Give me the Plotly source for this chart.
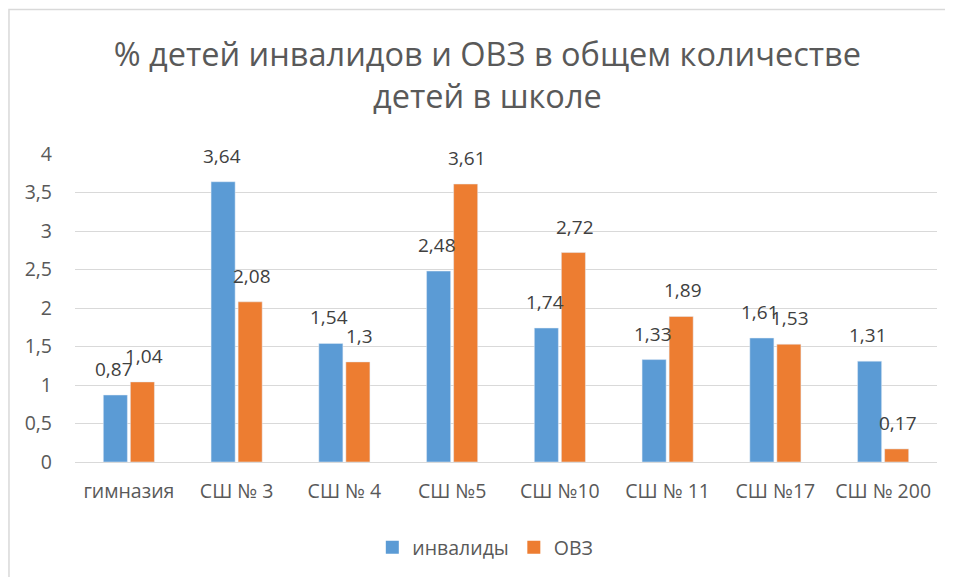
import plotly.graph_objects as go

schools = ["гимназия", "СШ № 3", "СШ № 4", "СШ №5", "СШ №10", "СШ № 11", "СШ №17", "СШ № 200"]
invalidy = [0.87, 3.64, 1.54, 2.48, 1.74, 1.33, 1.61, 1.31]
ovz = [1.04, 2.08, 1.3, 3.61, 2.72, 1.89, 1.53, 0.17]
y_ticks = [0, 0.5, 1, 1.5, 2, 2.5, 3, 3.5, 4]

blue = "#5B9BD5"
orange = "#ED7D31"
font = "Open Sans"
grey = "#595959"


def fmt(v):
    return ("%g" % v).replace(".", ",")


fig = go.Figure()
fig.add_trace(go.Bar(x=schools, y=invalidy, name="инвалиды", marker_color=blue, showlegend=False))
fig.add_trace(go.Bar(x=schools, y=ovz, name="ОВЗ", marker_color=orange, showlegend=False))
# square legend keys like Excel
for name, col in [("инвалиды", blue), ("ОВЗ", orange)]:
    fig.add_trace(go.Scatter(x=[None], y=[None], mode="markers", name=name,
                             marker=dict(symbol="square", size=13, color=col)))

# data labels sit a bit above each bar
for vals, shift in [(invalidy, -15), (ovz, 15)]:
    for s, v in zip(schools, vals):
        fig.add_annotation(x=s, y=v, text=fmt(v), showarrow=False, xshift=shift,
                           yanchor="bottom", yshift=11,
                           font=dict(family=font, size=19, color="#404040"))

# outer chart border
fig.add_shape(type="rect", xref="paper", yref="paper", x0=-0.0766, x1=1.2, y0=-1, y1=1.469,
              line=dict(color="#D9D9D9", width=1.5), layer="below")

fig.update_layout(
    width=953, height=577,
    margin=dict(l=67, r=24, t=146, b=123, autoexpand=False),
    paper_bgcolor="white", plot_bgcolor="white",
    barmode="group", bargap=0.498, bargroupgap=0.11,
    title=dict(text="% детей инвалидов и ОВЗ в общем количестве<br>детей в школе",
               x=0.503, xanchor="center", yref="container", y=1 - 58 / 577, yanchor="top",
               font=dict(family=font, size=32.5, color=grey)),
    font=dict(family=font, color=grey),
    showlegend=True,
    legend=dict(orientation="h", x=0.476, xanchor="center",
                y=-0.278, yanchor="middle", font=dict(size=19.5, color=grey),
                itemwidth=30),
)
fig.update_yaxes(range=[0, 4], tickvals=y_ticks, ticktext=[fmt(t) for t in y_ticks],
                 showgrid=True, gridcolor="#D9D9D9", gridwidth=1,
                 zeroline=True, zerolinecolor="#D9D9D9", zerolinewidth=1,
                 tickfont=dict(size=19.5, color=grey), ticklabelstandoff=22)
fig.update_xaxes(showline=False, tickfont=dict(size=19.5, color=grey),
                 ticklabelstandoff=15, tickangle=0)

fig.write_html("out.html")
